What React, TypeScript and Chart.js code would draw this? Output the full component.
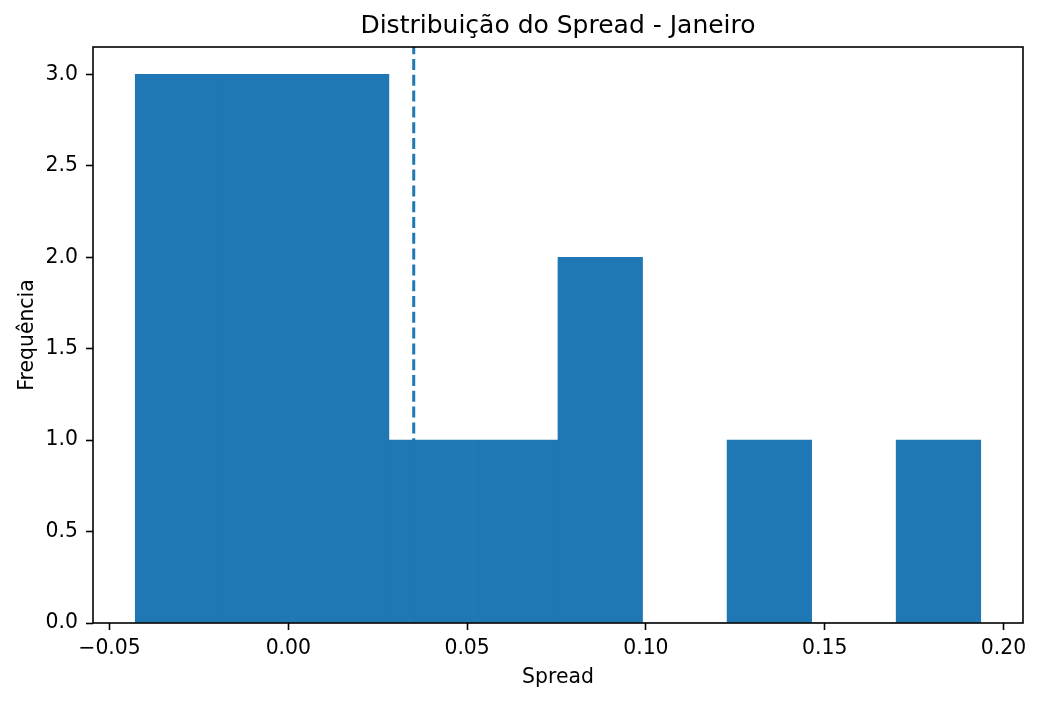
import { useEffect, useRef } from "react";
import { Chart, registerables } from "chart.js";
Chart.register(...registerables);

// histogram bins
const binEdges = [
  -0.04281, -0.01916, 0.00448, 0.02813, 0.05177, 0.07542, 0.09906, 0.12271,
  0.14636, 0.17, 0.19365,
];
const counts = [3, 3, 3, 1, 1, 2, 0, 1, 0, 1];
const meanSpread = 0.03507;

const xTicks = [-0.05, 0, 0.05, 0.1, 0.15, 0.2];
const yTicks = [0, 0.5, 1, 1.5, 2, 2.5, 3];
const xMin = -0.05463;
const xMax = 0.20547;
const yMax = 3.15;

const title = "Distribuição do Spread - Janeiro";
const xLabel = "Spread";
const yLabel = "Frequência";

const BLUE = "#1f77b4";
const FONT = "'DejaVu Sans', sans-serif";

const App = () => {
  const canvasRef = useRef<HTMLCanvasElement>(null);
  const chartRef = useRef<Chart | null>(null);

  useEffect(() => {
    if (chartRef.current) {
      chartRef.current.destroy();
      chartRef.current = null;
    }

    const bars = counts.map((c, i) => ({
      x: (binEdges[i] + binEdges[i + 1]) / 2,
      y: c,
    }));

    // frame + title + axis labels, matplotlib style
    const decorations = {
      id: "decorations",
      afterDraw(chart: Chart) {
        const { ctx, chartArea } = chart;
        const cx = (chartArea.left + chartArea.right) / 2;
        ctx.save();
        ctx.strokeStyle = "#000";
        ctx.lineWidth = 1.6;
        ctx.strokeRect(
          chartArea.left,
          chartArea.top,
          chartArea.right - chartArea.left,
          chartArea.bottom - chartArea.top
        );
        ctx.fillStyle = "#000";
        ctx.textAlign = "center";
        ctx.textBaseline = "alphabetic";
        ctx.font = `25px ${FONT}`;
        ctx.fillText(title, cx, 32.5);
        ctx.font = `20.4px ${FONT}`;
        ctx.fillText(xLabel, cx, 683);
        ctx.translate(33, (chartArea.top + chartArea.bottom) / 2);
        ctx.rotate(-Math.PI / 2);
        ctx.fillText(yLabel, 0, 0);
        ctx.restore();
      },
    };

    chartRef.current = new Chart(canvasRef.current!, {
      type: "bar",
      data: {
        datasets: [
          {
            type: "line",
            data: [
              { x: meanSpread, y: 0 },
              { x: meanSpread, y: yMax },
            ],
            borderColor: BLUE,
            borderWidth: 3,
            borderDash: [11, 4.8],
            pointRadius: 0,
            fill: false,
            order: 0,
          },
          {
            type: "bar",
            data: bars,
            backgroundColor: BLUE,
            borderWidth: 0,
            barPercentage: 1,
            categoryPercentage: 1,
            grouped: false,
            order: 1,
          },
        ] as any,
      },
      plugins: [decorations],
      options: {
        animation: false,
        responsive: true,
        maintainAspectRatio: false,
        layout: { padding: { left: 0, top: 47, right: 18, bottom: 0 } },
        plugins: {
          legend: { display: false },
          tooltip: { enabled: false },
        },
        scales: {
          x: {
            type: "linear",
            offset: false,
            min: xMin,
            max: xMax,
            afterBuildTicks: (scale: any) => {
              scale.ticks = xTicks.map((value) => ({ value }));
            },
            afterFit: (scale: any) => {
              scale.height = 79;
            },
            ticks: {
              autoSkip: false,
              maxRotation: 0,
              padding: 6,
              color: "#000",
              font: { family: FONT, size: 20.4 },
              callback: (v: any) => Number(v).toFixed(2).replace("-", "\u2212"),
            },
            grid: {
              display: true,
              offset: false,
              drawOnChartArea: false,
              drawTicks: true,
              tickLength: 7,
              tickWidth: 1.6,
              tickColor: "#000",
            },
            border: { display: false },
          },
          y: {
            type: "linear",
            min: 0,
            max: yMax,
            afterBuildTicks: (scale: any) => {
              scale.ticks = yTicks.map((value) => ({ value }));
            },
            afterFit: (scale: any) => {
              scale.width = 93;
            },
            ticks: {
              autoSkip: false,
              padding: 8,
              color: "#000",
              font: { family: FONT, size: 20.4 },
              callback: (v: any) => Number(v).toFixed(1),
            },
            grid: {
              display: true,
              offset: false,
              drawOnChartArea: false,
              drawTicks: true,
              tickLength: 7,
              tickWidth: 1.6,
              tickColor: "#000",
            },
            border: { display: false },
          },
        },
      } as any,
    });

    return () => {
      if (chartRef.current) {
        chartRef.current.destroy();
        chartRef.current = null;
      }
    };
  }, []);

  return (
    <div
      style={{
        position: "absolute",
        left: 0,
        top: 0,
        width: 1041,
        height: 702,
        background: "#fff",
      }}
    >
      <canvas ref={canvasRef} />
    </div>
  );
};

export default App;
